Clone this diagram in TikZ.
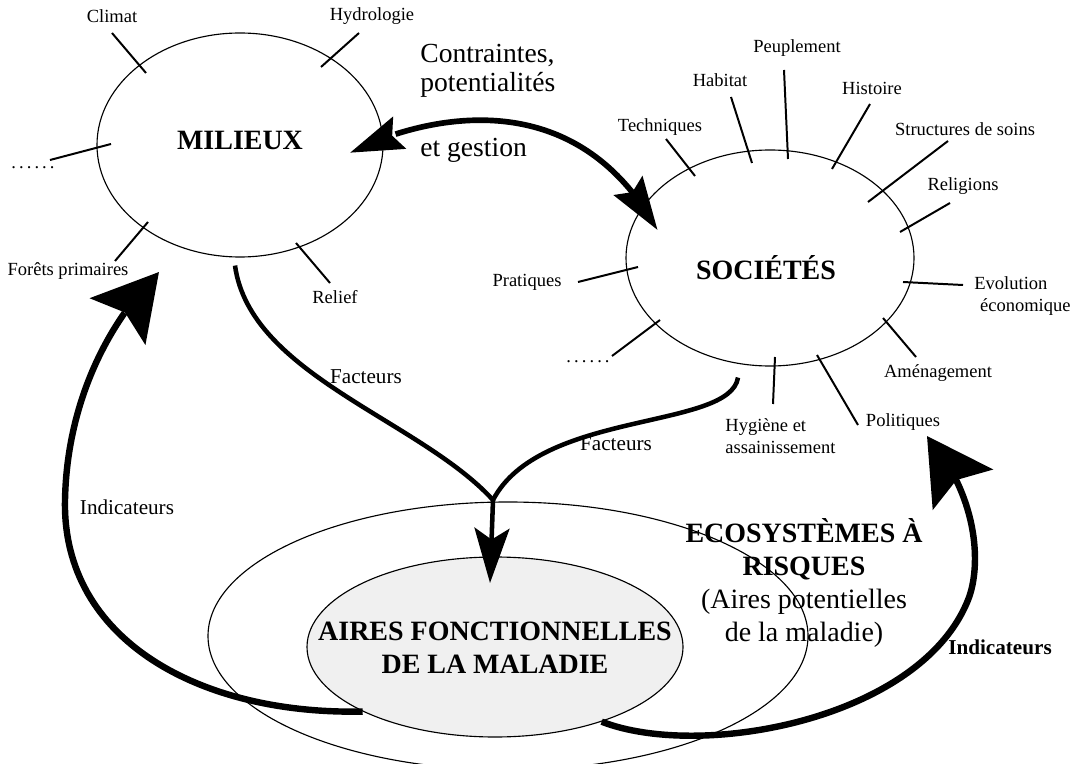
\documentclass[tikz,border=0pt]{standalone}
\usepackage{fontspec}
\setmainfont{Liberation Serif}
\usepackage{tikz}
\usetikzlibrary{arrows.meta,shapes.geometric,calc,bending}
\newcommand{\pxlen}{0.0186cm}
\tikzset{
  ell/.style      = {draw, ellipse, inner sep=0pt, line width=0.6pt},
  tag/.style      = {font=\fontsize{9.8}{11.6}\selectfont, inner sep=0pt},
  ttl/.style      = {font=\fontsize{14.8}{17.4}\selectfont\bfseries, align=center, inner sep=0pt},
  big/.style      = {font=\fontsize{14.6}{17}\selectfont, inner sep=0pt},
  mid/.style      = {font=\fontsize{11.2}{13}\selectfont, inner sep=0pt},
  tickline/.style = {line width=1.05pt},
  lien/.style     = {line width=3pt, {Stealth[length=28pt,width=18pt,inset=4pt,flex]}-{Stealth[length=28pt,width=18pt,inset=4pt,flex]}},
  fact/.style     = {line width=2.4pt},
  indic/.style    = {line width=3.4pt, -{Stealth[length=34pt,width=38pt,inset=6pt,flex]}},
}

\begin{document}
\begin{tikzpicture}[x=\pxlen, y=-\pxlen]
  \useasboundingbox (0,0) rectangle (1080,764);

  % the four areas
  \node[ell, minimum width=286*\pxlen, minimum height=224*\pxlen] (mil) at (240,145) {};
  \node[ell, minimum width=288*\pxlen, minimum height=216*\pxlen] (soc) at (770,258) {};
  \node[ell, minimum width=600*\pxlen, minimum height=268*\pxlen] (eco) at (508,636) {};
  \node[ell, fill=black!6, minimum width=376*\pxlen, minimum height=180*\pxlen] (aires) at (495,647) {};

  \node[ttl] (miltxt) at (240,140) {MILIEUX};
  \node[ttl] (soctxt) at (766,268) {SOCIÉTÉS};
  \node[ttl] (airestxt) at (495,648) {AIRES FONCTIONNELLES\\DE LA MALADIE};
  \node[ttl, font=\fontsize{14.8}{17.4}\selectfont] (ecotxt) at (804,583)
    {\textbf{ECOSYSTÈMES À}\\\textbf{RISQUES}\\(Aires potentielles\\de la maladie)};

  % milieux
  \node[tag] (climat) at (112,16) {Climat};
  \node[tag] (hydro) at (372,16) {Hydrologie};
  \node[tag] (dotsA) at (33,168) {.\,.\,.\,.\,.\,.};
  \node[tag] (forets) at (68,271) {Forêts primaires};
  \node[tag] (relief) at (335,297) {Relief};
  \foreach \xa/\ya/\xb/\yb in {112/33/146/73, 359/33/321/67, 50/160/111/144, 115/261/148/222, 330/283/296/243}
    \draw[tickline] (\xa,\ya) -- (\xb,\yb);

  % societes
  \node[tag] (techn) at (660,127) {Techniques};
  \node[tag] (habitat) at (720,80) {Habitat};
  \node[tag] (peupl) at (797,48) {Peuplement};
  \node[tag] (hist) at (872,88) {Histoire};
  \node[tag] (struct) at (965,129) {Structures de soins};
  \node[tag] (relig) at (963,186) {Religions};
  \node[tag, align=left, anchor=west] (evol) at (974,296) {Evolution\\ \hspace*{3pt}économique};
  \node[tag] (amen) at (938,373) {Aménagement};
  \node[tag] (polit) at (903,422) {Politiques};
  \node[tag, align=left, anchor=west] (hyg) at (725,436) {Hygiène et\\assainissement};
  \node[tag] (dotsB) at (588,362) {.\,.\,.\,.\,.\,.};
  \node[tag] (prat) at (527,282) {Pratiques};
  \foreach \xa/\ya/\xb/\yb in {666/139/695/176, 731/97/752/163, 784/70/788/159, 870/104/832/169,
      948/141/868/202, 950/203/900/232, 963/285/903/282, 916/357/883/318, 858/425/817/355,
      773/404/775/357, 612/356/660/320, 578/282/638/267}
    \draw[tickline] (\xa,\ya) -- (\xb,\yb);

  % contraintes
  \node[big, anchor=base west] (cg1) at (420,63) {Contraintes,};
  \node[big, anchor=base west] (cg2) at (420,92) {potentialités};
  \node[big, anchor=base west] (cg3) at (420,157) {et gestion};
  \draw[lien] ($(mil.center)!0.77!(mil.-4)$) .. controls (410,122) and (570,72) .. ($(soc.center)!0.82!(soc.166)$);

  % facteurs
  \coordinate (merge) at (493,500);
  \coordinate (fpt) at (490,583);
  \draw[fact] ([shift={(-5,8)}]mil.south) .. controls (250,375) and (420,420) .. (merge);
  \draw[fact] ([shift={(-32,11)}]soc.south) .. controls (730,430) and (540,410) .. (merge);
  \draw[fact, -{Stealth[length=29pt,width=18.5pt,inset=6pt]}] (merge) -- (fpt);
  \node[mid] (fac1) at (366,377) {Facteurs};
  \node[mid] (fac2) at (616,444) {Facteurs};

  % indicateurs
  \coordinate (lit) at (159,272);
  \coordinate (rit) at (927,436);
  \draw[indic] (aires.206) .. controls (200,715) and (62,640) .. (65,500) .. controls (67,400) and (110,320) .. (lit);
  \draw[indic] (aires.-35) .. controls (700,760) and (920,720) .. (968,600) .. controls (982,565) and (978,495) .. (rit);
  \node[mid] (ind1) at (127,507) {Indicateurs};
  \node[mid, font=\fontsize{11.2}{13}\selectfont\bfseries] (ind2) at (1000,647) {Indicateurs};
\end{tikzpicture}
\end{document}
